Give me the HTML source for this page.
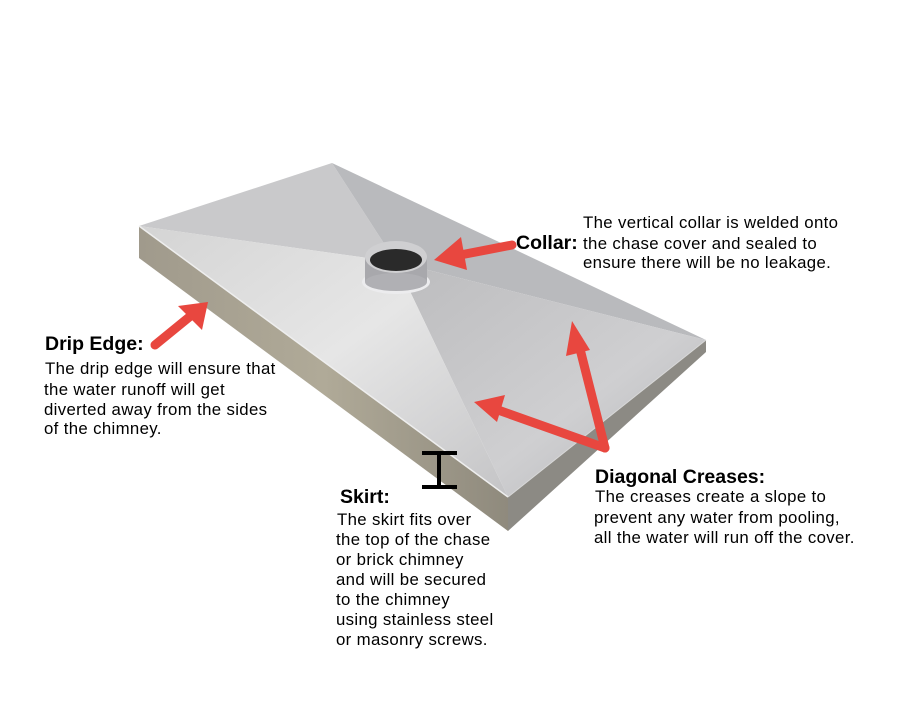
<!DOCTYPE html>
<html><head><meta charset="utf-8"><style>
html,body{margin:0;padding:0;background:#fff;}
svg{display:block;}
text{font-family:"Liberation Sans",sans-serif;fill:#000;}
.h{font-weight:bold;font-size:19.5px;}
.t{font-size:16.8px;letter-spacing:0.35px;}
</style></head><body>
<svg width="907" height="719" viewBox="0 0 907 719" xmlns="http://www.w3.org/2000/svg">
<defs>
<linearGradient id="top1" x1="0" y1="0" x2="1" y2="1">
<stop offset="0" stop-color="#d4d4d4"/><stop offset="0.5" stop-color="#e6e6e6"/><stop offset="1" stop-color="#c4c4c6"/></linearGradient>
<linearGradient id="top2" x1="0" y1="0" x2="1" y2="1">
<stop offset="0" stop-color="#bcbcbe"/><stop offset="0.6" stop-color="#cfcfd1"/><stop offset="1" stop-color="#b3b4b7"/></linearGradient>
<linearGradient id="sk" x1="0" y1="0" x2="1" y2="0">
<stop offset="0" stop-color="#a09a8c"/><stop offset="0.5" stop-color="#b0aa98"/><stop offset="1" stop-color="#8f8a7d"/></linearGradient>
</defs>
<polygon points="139,226 508,497 508,531 139,258" fill="url(#sk)"/>
<polygon points="508,497 706,340 706,352 508,531" fill="#8c8a84"/>
<polygon points="139,226 332,163 396,262" fill="#c9c9cb"/>
<polygon points="332,163 706,340 396,262" fill="#b9babd"/>
<polygon points="706,340 508,497 396,262" fill="url(#top2)"/>
<polygon points="508,497 139,226 396,262" fill="url(#top1)"/>
<line x1="139" y1="226" x2="508" y2="497" stroke="#eeeeee" stroke-width="1.5"/>
<line x1="508" y1="497" x2="706" y2="340" stroke="#d8d8d8" stroke-width="1"/>
<ellipse cx="396" cy="282" rx="34" ry="12" fill="#ececee"/>
<rect x="365" y="257" width="62" height="25" fill="#a8a8ac"/>
<ellipse cx="396" cy="282" rx="31" ry="9" fill="#b0b0b4"/>
<ellipse cx="396" cy="257" rx="31" ry="16" fill="#cfcfd1"/>
<ellipse cx="396" cy="260" rx="26" ry="11" fill="#2a2a2a"/>
<g stroke="#e8473f" stroke-width="9" stroke-linecap="round" fill="#e8473f">
<line x1="512" y1="245" x2="455" y2="256"/>
<line x1="155" y1="345" x2="193" y2="314"/>
<line x1="605" y1="448" x2="579" y2="345"/>
<line x1="605" y1="448" x2="498" y2="410"/>
</g>
<g fill="#e8473f">
<polygon points="434,260 461,237 467,270"/>
<polygon points="208,302 202,330 178,306"/>
<polygon points="572,321 590,350 566,356"/>
<polygon points="474,402 505,395 497,422"/>
</g>
<g stroke="#000" stroke-width="4">
<line x1="422" y1="453" x2="457" y2="453"/>
<line x1="422" y1="487" x2="457" y2="487"/>
<line x1="439" y1="453" x2="439" y2="487"/>
</g>
<text class="h" x="516" y="249">Collar:</text>
<text class="t" x="583" y="228">The vertical collar is welded onto</text>
<text class="t" x="583" y="249">the chase cover and sealed to</text>
<text class="t" x="583" y="268">ensure there will be no leakage.</text>
<text class="h" x="45" y="350">Drip Edge:</text>
<text class="t" x="45" y="374">The drip edge will ensure that</text>
<text class="t" x="44" y="395">the water runoff will get</text>
<text class="t" x="44" y="415">diverted away from the sides</text>
<text class="t" x="44" y="434">of the chimney.</text>
<text class="h" x="595" y="483">Diagonal Creases:</text>
<text class="t" x="595" y="502">The creases create a slope to</text>
<text class="t" x="594" y="523">prevent any water from pooling,</text>
<text class="t" x="594" y="543">all the water will run off the cover.</text>
<text class="h" x="340" y="503">Skirt:</text>
<text class="t" x="337" y="525">The skirt fits over</text>
<text class="t" x="336" y="545">the top of the chase</text>
<text class="t" x="336" y="565">or brick chimney</text>
<text class="t" x="336" y="585">and will be secured</text>
<text class="t" x="336" y="605">to the chimney</text>
<text class="t" x="336" y="625">using stainless steel</text>
<text class="t" x="336" y="645">or masonry screws.</text>
</svg>
</body></html>
